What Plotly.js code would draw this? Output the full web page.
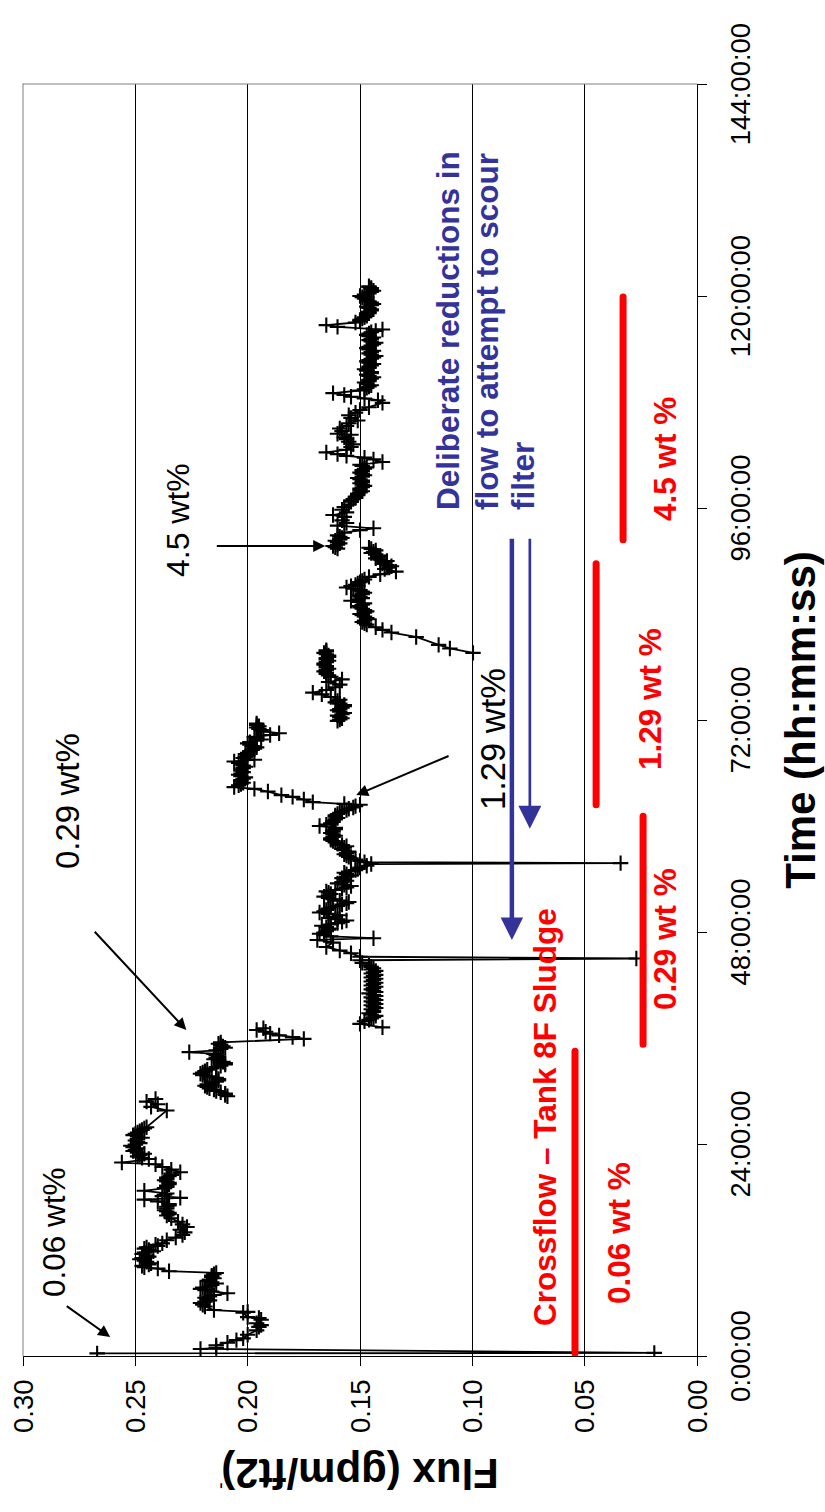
<!DOCTYPE html>
<html><head><meta charset="utf-8">
<script src="https://cdn.plot.ly/plotly-3.0.1.min.js"></script>
<style>
html,body{margin:0;padding:0;background:#fff;overflow:hidden;width:825px;height:1512px;}
#wrap{position:absolute;left:0;top:0;width:1512px;height:825px;transform-origin:0 0;transform:translateY(1512px) rotate(-90deg);}
#chart{width:1512px;height:825px;}
</style></head><body>
<div id="wrap"><div id="chart"></div></div>
<script>
// ---- data (time in hours, flux in gpm/ft2) ----
const timeTicks = [0, 24, 48, 72, 96, 120, 144];
const timeTickLabels = ['0:00:00', '24:00:00', '48:00:00', '72:00:00', '96:00:00', '120:00:00', '144:00:00'];
const fluxTicks = [0, 0.05, 0.10, 0.15, 0.20, 0.25, 0.30];
const fluxTickLabels = ['0.00', '0.05', '0.10', '0.15', '0.20', '0.25', '0.30'];

const run006a = [[0.3,0.267],[0.35,0.019],[0.8,0.221],[0.9,0.214],[1.2,0.214],[1.5,0.209],[1.8,0.205],[2.0,0.202],[2.4,0.200],[2.9,0.196],[3.3,0.195],[3.5,0.194],[3.7,0.196],[4.1,0.194],[4.3,0.195],[4.4,0.200],[4.9,0.202],[5.0,0.200],[5.2,0.215],[5.6,0.219],[5.8,0.220],[6.0,0.221],[6.15,0.219],[6.3,0.217],[6.45,0.218],[6.6,0.219],[6.75,0.217],[6.9,0.215],[7.1,0.209],[7.3,0.216],[7.45,0.219],[7.6,0.221],[7.75,0.220],[7.9,0.217],[8.05,0.216],[8.2,0.214],[8.35,0.216],[8.5,0.218],[8.65,0.217],[8.8,0.215],[8.95,0.216],[9.1,0.216],[9.25,0.215],[9.4,0.214],[9.6,0.235],[9.9,0.240],[10.05,0.246],[10.2,0.247],[10.35,0.244],[10.5,0.243],[10.65,0.245],[10.8,0.246],[10.95,0.248],[11.1,0.247],[11.25,0.244],[11.4,0.245],[11.55,0.247],[11.7,0.246],[11.85,0.242],[12.0,0.244],[12.15,0.246],[12.3,0.245],[12.45,0.240],[12.6,0.241],[12.75,0.238],[13.1,0.236],[13.4,0.232],[13.7,0.229],[14.0,0.228],[14.3,0.230],[14.6,0.227],[14.9,0.229],[15.2,0.231],[15.6,0.234],[15.9,0.236],[16.05,0.235],[16.2,0.235],[16.35,0.236],[16.5,0.237],[16.7,0.236],[16.9,0.236],[17.05,0.235],[17.2,0.235],[17.5,0.240],[17.7,0.246],[17.9,0.230],[18.1,0.238],[18.25,0.237],[18.4,0.236],[18.7,0.246],[19.0,0.237],[19.15,0.236],[19.3,0.236],[19.45,0.235],[19.6,0.235],[19.75,0.236],[19.9,0.237],[20.05,0.236],[20.2,0.236],[20.35,0.235],[20.5,0.234],[20.8,0.230],[21.1,0.234],[21.4,0.238],[21.7,0.241],[21.9,0.256],[22.3,0.244],[22.45,0.247],[22.6,0.249],[22.75,0.248],[22.9,0.246],[23.05,0.249],[23.2,0.251],[23.35,0.250],[23.5,0.249],[23.65,0.251],[23.8,0.252],[23.95,0.250],[24.1,0.248],[24.25,0.249],[24.4,0.250],[24.55,0.249],[24.7,0.247],[24.85,0.249],[25.0,0.251],[25.15,0.250],[25.3,0.249],[25.45,0.248],[25.6,0.247],[25.75,0.246],[25.9,0.245],[27.8,0.236],[28.2,0.243],[28.5,0.240],[28.8,0.245],[29.1,0.241]];
const run006b = [[29.4,0.209],[29.55,0.210],[29.7,0.210],[29.85,0.212],[30.0,0.214],[30.15,0.215],[30.3,0.217],[30.45,0.218],[30.6,0.219],[30.75,0.218],[30.9,0.216],[31.05,0.214],[31.2,0.213],[31.35,0.213],[31.5,0.214],[31.65,0.217],[31.8,0.220],[31.95,0.221],[32.1,0.220],[32.25,0.219],[32.4,0.218],[32.55,0.216],[32.7,0.214],[32.85,0.212],[33.0,0.210],[33.15,0.210],[33.3,0.211],[33.45,0.213],[33.6,0.215],[33.75,0.214],[33.9,0.213],[34.05,0.214],[34.2,0.215],[34.4,0.226],[34.6,0.214],[34.75,0.212],[34.9,0.210],[35.05,0.211],[35.2,0.212],[35.35,0.213],[35.5,0.212],[35.9,0.175],[36.1,0.180],[36.3,0.186],[36.5,0.190],[36.7,0.192],[36.9,0.196],[37.1,0.193]];
const run029 = [[37.2,0.140],[37.6,0.150],[37.9,0.148],[38.05,0.146],[38.2,0.145],[38.35,0.144],[38.5,0.143],[38.65,0.145],[38.8,0.146],[38.95,0.144],[39.1,0.144],[39.25,0.145],[39.4,0.143],[39.55,0.144],[39.7,0.145],[39.85,0.143],[40.0,0.144],[40.15,0.145],[40.3,0.143],[40.45,0.144],[40.6,0.145],[40.75,0.143],[40.9,0.144],[41.05,0.146],[41.2,0.143],[41.35,0.144],[41.5,0.145],[41.65,0.144],[41.8,0.143],[41.95,0.145],[42.1,0.144],[42.25,0.143],[42.4,0.145],[42.55,0.144],[42.7,0.143],[42.85,0.145],[43.0,0.144],[43.15,0.143],[43.3,0.145],[43.45,0.144],[43.6,0.143],[43.75,0.145],[43.9,0.144],[44.05,0.145],[44.2,0.146],[44.5,0.149],[44.8,0.150],[45.0,0.027],[45.2,0.150],[45.6,0.154],[45.9,0.159],[46.3,0.165],[46.8,0.162],[47.1,0.169],[47.3,0.144],[47.5,0.163],[47.65,0.166],[47.8,0.168],[47.95,0.166],[48.1,0.165],[48.25,0.164],[48.4,0.163],[48.55,0.165],[48.7,0.167],[48.85,0.163],[49.0,0.160],[49.15,0.158],[49.3,0.156],[49.45,0.160],[49.6,0.164],[49.75,0.161],[49.9,0.159],[50.05,0.164],[50.2,0.168],[50.35,0.166],[50.5,0.165],[50.65,0.164],[50.8,0.163],[50.95,0.160],[51.1,0.158],[51.25,0.156],[51.4,0.155],[51.55,0.159],[51.7,0.162],[51.85,0.164],[52.0,0.166],[52.15,0.164],[52.3,0.163],[52.45,0.164],[52.6,0.165],[52.75,0.161],[52.9,0.158],[53.05,0.156],[53.2,0.154],[53.35,0.157],[53.5,0.160],[53.65,0.158],[53.8,0.156],[53.95,0.157],[54.1,0.158],[54.25,0.156],[54.4,0.154],[54.55,0.156],[54.7,0.157],[54.85,0.154],[55.0,0.152],[55.15,0.151],[55.3,0.150],[55.5,0.147],[55.7,0.145],[55.8,0.034],[55.9,0.148],[56.05,0.150],[56.2,0.152],[56.35,0.154],[56.5,0.155],[56.65,0.156],[56.8,0.157],[56.95,0.156],[57.1,0.155],[57.25,0.157],[57.4,0.158],[57.55,0.157],[57.7,0.156],[57.85,0.158],[58.0,0.160],[58.15,0.161],[58.3,0.162],[58.45,0.163],[58.6,0.163],[58.75,0.162],[58.9,0.161],[59.05,0.162],[59.2,0.163],[59.35,0.162],[59.5,0.162],[59.65,0.161],[59.8,0.161],[60.0,0.168],[60.15,0.165],[60.3,0.163],[60.45,0.162],[60.6,0.162],[60.75,0.161],[60.9,0.160],[61.05,0.161],[61.2,0.161],[61.35,0.160],[61.5,0.159],[61.65,0.158],[61.8,0.156],[61.95,0.155],[62.1,0.153],[62.25,0.152],[62.4,0.150],[62.5,0.157],[62.7,0.171],[63.0,0.175],[63.3,0.180],[63.5,0.185],[63.9,0.191],[64.2,0.197],[64.4,0.206],[64.6,0.204],[64.75,0.203],[64.9,0.202],[65.05,0.203],[65.2,0.203],[65.35,0.202],[65.5,0.201],[65.65,0.203],[65.8,0.204],[65.95,0.203],[66.1,0.202],[66.25,0.203],[66.4,0.203],[66.55,0.202],[66.7,0.201],[66.85,0.202],[67.0,0.203],[67.15,0.204],[67.3,0.206],[67.5,0.197],[67.7,0.202],[67.85,0.201],[68.0,0.200],[68.15,0.201],[68.3,0.200],[68.45,0.199],[68.6,0.198],[68.75,0.197],[68.9,0.196],[69.05,0.198],[69.2,0.199],[69.35,0.200],[69.5,0.199],[69.65,0.196],[69.8,0.194],[69.95,0.196],[70.1,0.197],[70.3,0.190],[70.5,0.186],[70.7,0.193],[70.85,0.194],[71.0,0.195],[71.15,0.196],[71.3,0.195],[71.45,0.196],[71.6,0.196]];
const run129a = [[71.9,0.160],[72.05,0.159],[72.2,0.158],[72.35,0.159],[72.5,0.160],[72.65,0.158],[72.8,0.157],[72.95,0.159],[73.1,0.160],[73.25,0.159],[73.4,0.158],[73.55,0.157],[73.7,0.157],[73.85,0.159],[74.0,0.161],[74.15,0.160],[74.3,0.159],[74.6,0.163],[74.9,0.167],[75.1,0.171],[75.4,0.165],[75.7,0.161],[76.0,0.159],[76.3,0.164],[76.6,0.158],[76.9,0.163],[77.05,0.164],[77.2,0.165],[77.35,0.165],[77.5,0.166],[77.65,0.165],[77.8,0.164],[77.95,0.165],[78.1,0.165],[78.25,0.166],[78.4,0.166],[78.55,0.165],[78.7,0.164],[78.85,0.165],[79.0,0.165],[79.15,0.164],[79.3,0.164],[79.45,0.165],[79.6,0.166],[79.75,0.165],[79.9,0.165]];
const run129b = [[79.6,0.0997],[80.1,0.110],[80.5,0.115],[81.4,0.125],[81.9,0.136],[82.2,0.140],[82.5,0.143],[82.8,0.147],[82.95,0.148],[83.1,0.149],[83.25,0.148],[83.4,0.146],[83.55,0.147],[83.7,0.148],[83.85,0.149],[84.0,0.150],[84.15,0.148],[84.3,0.147],[84.45,0.148],[84.6,0.149],[84.75,0.150],[84.9,0.151],[85.05,0.149],[85.2,0.148],[85.35,0.151],[85.5,0.154],[85.65,0.151],[85.8,0.149],[85.95,0.150],[86.1,0.151],[86.25,0.149],[86.4,0.148],[86.55,0.149],[86.7,0.150],[86.85,0.153],[87.0,0.156],[87.15,0.154],[87.3,0.152],[87.45,0.151],[87.6,0.150],[87.75,0.149],[87.9,0.148],[88.2,0.146],[88.5,0.141],[88.8,0.134],[89.1,0.139],[89.25,0.137],[89.4,0.136],[89.55,0.138],[89.7,0.140],[89.85,0.139],[90.0,0.138],[90.15,0.141],[90.3,0.143],[90.45,0.142],[90.6,0.141],[90.75,0.143],[90.9,0.145],[91.05,0.144],[91.2,0.143],[91.35,0.145],[91.5,0.146]];
const run45 = [[91.4,0.160],[91.55,0.161],[91.7,0.162],[91.85,0.160],[92.0,0.159],[92.15,0.160],[92.3,0.161],[92.45,0.159],[92.6,0.158],[92.75,0.159],[92.9,0.160],[93.2,0.157],[93.5,0.150],[93.7,0.144],[94.0,0.160],[94.3,0.156],[94.6,0.158],[95.0,0.157],[95.2,0.162],[95.5,0.156],[95.8,0.158],[96.1,0.157],[96.4,0.155],[96.7,0.154],[96.85,0.154],[97.0,0.153],[97.15,0.152],[97.3,0.152],[97.45,0.151],[97.6,0.151],[97.75,0.150],[97.9,0.149],[98.05,0.150],[98.2,0.150],[98.35,0.149],[98.5,0.148],[98.65,0.149],[98.8,0.150],[98.95,0.149],[99.1,0.149],[99.25,0.150],[99.4,0.151],[99.55,0.149],[99.7,0.148],[99.85,0.149],[100.0,0.150],[100.15,0.149],[100.3,0.149],[100.45,0.148],[100.6,0.147],[100.75,0.149],[100.9,0.150],[101.2,0.140],[101.5,0.144],[101.7,0.148],[101.9,0.156],[102.1,0.160],[102.3,0.165],[102.6,0.156],[102.9,0.154],[103.2,0.153],[103.5,0.155],[103.8,0.156],[104.0,0.157],[104.3,0.154],[104.4,0.160],[104.7,0.158],[105.0,0.159],[105.3,0.156],[105.6,0.155],[105.9,0.151],[106.2,0.154],[106.5,0.155],[106.8,0.152],[107.1,0.150],[107.4,0.146],[107.9,0.140],[108.2,0.142],[108.4,0.148],[108.6,0.154],[108.8,0.157],[109.0,0.162],[109.3,0.150],[109.45,0.148],[109.6,0.147],[109.75,0.146],[109.9,0.145],[110.05,0.147],[110.2,0.148],[110.35,0.146],[110.5,0.146],[110.65,0.145],[110.8,0.144],[110.95,0.146],[111.1,0.147],[111.25,0.145],[111.4,0.145],[111.55,0.147],[111.7,0.148],[111.85,0.146],[112.0,0.146],[112.15,0.145],[112.3,0.144],[112.45,0.146],[112.6,0.147],[112.75,0.146],[112.9,0.145],[113.05,0.144],[113.2,0.143],[113.35,0.145],[113.5,0.146],[113.65,0.145],[113.8,0.144],[113.95,0.146],[114.1,0.147],[114.25,0.146],[114.4,0.145],[114.55,0.144],[114.7,0.143],[114.85,0.145],[115.0,0.146],[115.15,0.145],[115.3,0.144],[115.45,0.146],[115.6,0.147],[115.75,0.146],[115.9,0.145],[116.05,0.143],[116.2,0.140],[116.5,0.160],[116.7,0.165],[117.0,0.152],[117.15,0.150],[117.3,0.150],[117.45,0.149],[117.6,0.148],[117.75,0.147],[117.9,0.147],[118.05,0.146],[118.2,0.146],[118.35,0.145],[118.5,0.145],[118.65,0.146],[118.8,0.147],[118.95,0.145],[119.1,0.144],[119.25,0.145],[119.4,0.146],[119.55,0.147],[119.7,0.148],[119.85,0.149],[120.0,0.150],[120.15,0.148],[120.3,0.146],[120.45,0.145],[120.6,0.144],[120.75,0.145],[120.9,0.145],[121.0,0.146],[121.1,0.146]];

// concentration periods (red bars)
const phaseStart = [0.3, 35.3, 62.4, 92.4];
const phaseEnd   = [34.5, 61.1, 89.7, 119.9];
const phaseFlux  = [0.0543, 0.0240, 0.0449, 0.0329];

// ---- build ----
const FONT = 'Liberation Sans, Arial, Helvetica, sans-serif';
const runs = [run006a, run006b, run029, run129a, run129b, run45];
const xs = [], ys = [];
runs.forEach((r, i) => {
  if (i > 0) { xs.push(null); ys.push(null); }
  r.forEach(p => { xs.push(p[0]); ys.push(p[1]); });
});

const traces = [{
  type: 'scatter', mode: 'lines+markers', x: xs, y: ys, connectgaps: false,
  line: {color: '#000', width: 1.8},
  marker: {symbol: 'cross-thin', size: 11, color: '#000', line: {color: '#000', width: 2.1}},
  hoverinfo: 'skip', showlegend: false
}];

const shapes = [];
phaseStart.forEach((s, i) => {
  shapes.push({type: 'line', xref: 'x', yref: 'y', x0: s, x1: phaseEnd[i], y0: phaseFlux[i], y1: phaseFlux[i],
    line: {color: '#FF0000', width: 7}, layer: 'above'});
});
// grey plot-area border (top and right of the unrotated plot)
shapes.push({type: 'line', xref: 'paper', yref: 'paper', x0: 0, x1: 1, y0: 1, y1: 1, line: {color: '#808080', width: 1}, layer: 'above'});
shapes.push({type: 'line', xref: 'paper', yref: 'paper', x0: 1, x1: 1, y0: 0, y1: 1, line: {color: '#808080', width: 1}, layer: 'above'});

function label(x, y, text, size, color, xanchor) {
  return {x: x, y: y, xref: 'x', yref: 'y', text: text, showarrow: false,
    xanchor: xanchor || 'center', yanchor: 'middle', align: 'left',
    font: {family: FONT, size: size, color: color}};
}
function arrow(x, y, ax, ay, color, width, size) {
  return {x: x, y: y, ax: ax, ay: ay, xref: 'x', yref: 'y', axref: 'x', ayref: 'y', text: '',
    showarrow: true, arrowhead: 2, arrowsize: size, arrowwidth: width, arrowcolor: color, standoff: 0, startstandoff: 0};
}
const BLUE = '#333399', RED = '#FF0000';
const annotations = [
  label(14.07, 0.2864, '0.06 wt%', 31.5, '#000'),
  arrow(2.15, 0.2612, 5.77, 0.2812, '#000', 2, 1.2),
  label(62.8, 0.2801, '0.29 wt%', 33, '#000'),
  arrow(36.9, 0.2273, 48.2, 0.2687, '#000', 2, 1.2),
  label(94.6, 0.2311, '4.5 wt%', 32, '#000'),
  arrow(91.7, 0.1655, 91.7, 0.2144, '#000', 2, 1.2),
  label(69.9, 0.0910, '1.29 wt%', 34.5, '#000'),
  arrow(63.5, 0.1517, 68.0, 0.1099, '#000', 2, 1.2),
  label(95.55, 0.1110, '<b>Deliberate reductions in</b>', 31.5, BLUE, 'left'),
  label(95.55, 0.0935, '<b>flow to attempt to scour</b>', 31.5, BLUE, 'left'),
  label(95.55, 0.0776, '<b>filter</b>', 31.5, BLUE, 'left'),
  arrow(47.1, 0.0824, 92.7, 0.0824, BLUE, 4.5, 1),
  arrow(59.7, 0.0744, 92.7, 0.0744, BLUE, 2.7, 1.7),
  label(13.98, 0.0345, '<b>0.06 wt %</b>', 31.5, RED),
  label(27.0, 0.0676, '<b>Crossflow – Tank 8F Sludge</b>', 31.5, RED),
  label(47.2, 0.0142, '<b>0.29 wt %</b>', 31.5, RED),
  label(74.4, 0.0209, '<b>1.29 wt %</b>', 31.5, RED),
  label(101.5, 0.0142, '<b>4.5 wt %</b>', 31.5, RED),
  {x: -0.106, y: 0.727, xref: 'paper', yref: 'paper', text: '-', showarrow: false,
   font: {family: FONT, size: 20, color: '#000'}}
];

const layout = {
  width: 1512, height: 825,
  margin: {l: 156, r: 84, t: 23, b: 128, pad: 0},
  paper_bgcolor: '#fff', plot_bgcolor: '#fff',
  font: {family: FONT, color: '#000'},
  showlegend: false,
  xaxis: {
    range: [0, 144], tickmode: 'array', tickvals: timeTicks, ticktext: timeTickLabels,
    ticks: 'outside', ticklen: 9, tickwidth: 1, tickcolor: '#000',
    showline: true, linecolor: '#000', linewidth: 1, showgrid: false, zeroline: false,
    tickfont: {family: FONT, size: 27.5, color: '#000'}, ticklabelstandoff: 10,
    title: {text: '<b>Time (hh:mm:ss)</b>', font: {family: FONT, size: 42, color: '#000'}, standoff: 30}
  },
  yaxis: {
    range: [0, 0.30], tickmode: 'array', tickvals: fluxTicks, ticktext: fluxTickLabels,
    ticks: 'outside', ticklen: 9, tickwidth: 1, tickcolor: '#000',
    showline: true, linecolor: '#000', linewidth: 1,
    showgrid: true, gridcolor: '#000', gridwidth: 1, zeroline: false,
    tickfont: {family: FONT, size: 27.5, color: '#000'}, ticklabelstandoff: 8,
    title: {text: '<b>Flux (gpm/ft2)</b>', font: {family: FONT, size: 42, color: '#000'}, standoff: 12}
  },
  shapes: shapes,
  annotations: annotations
};

Plotly.newPlot('chart', traces, layout, {staticPlot: true, displayModeBar: false}).then(() => {
  document.querySelectorAll('#chart .shapelayer path').forEach(p => { p.style.strokeLinecap = 'round'; });
});
</script></body></html>
